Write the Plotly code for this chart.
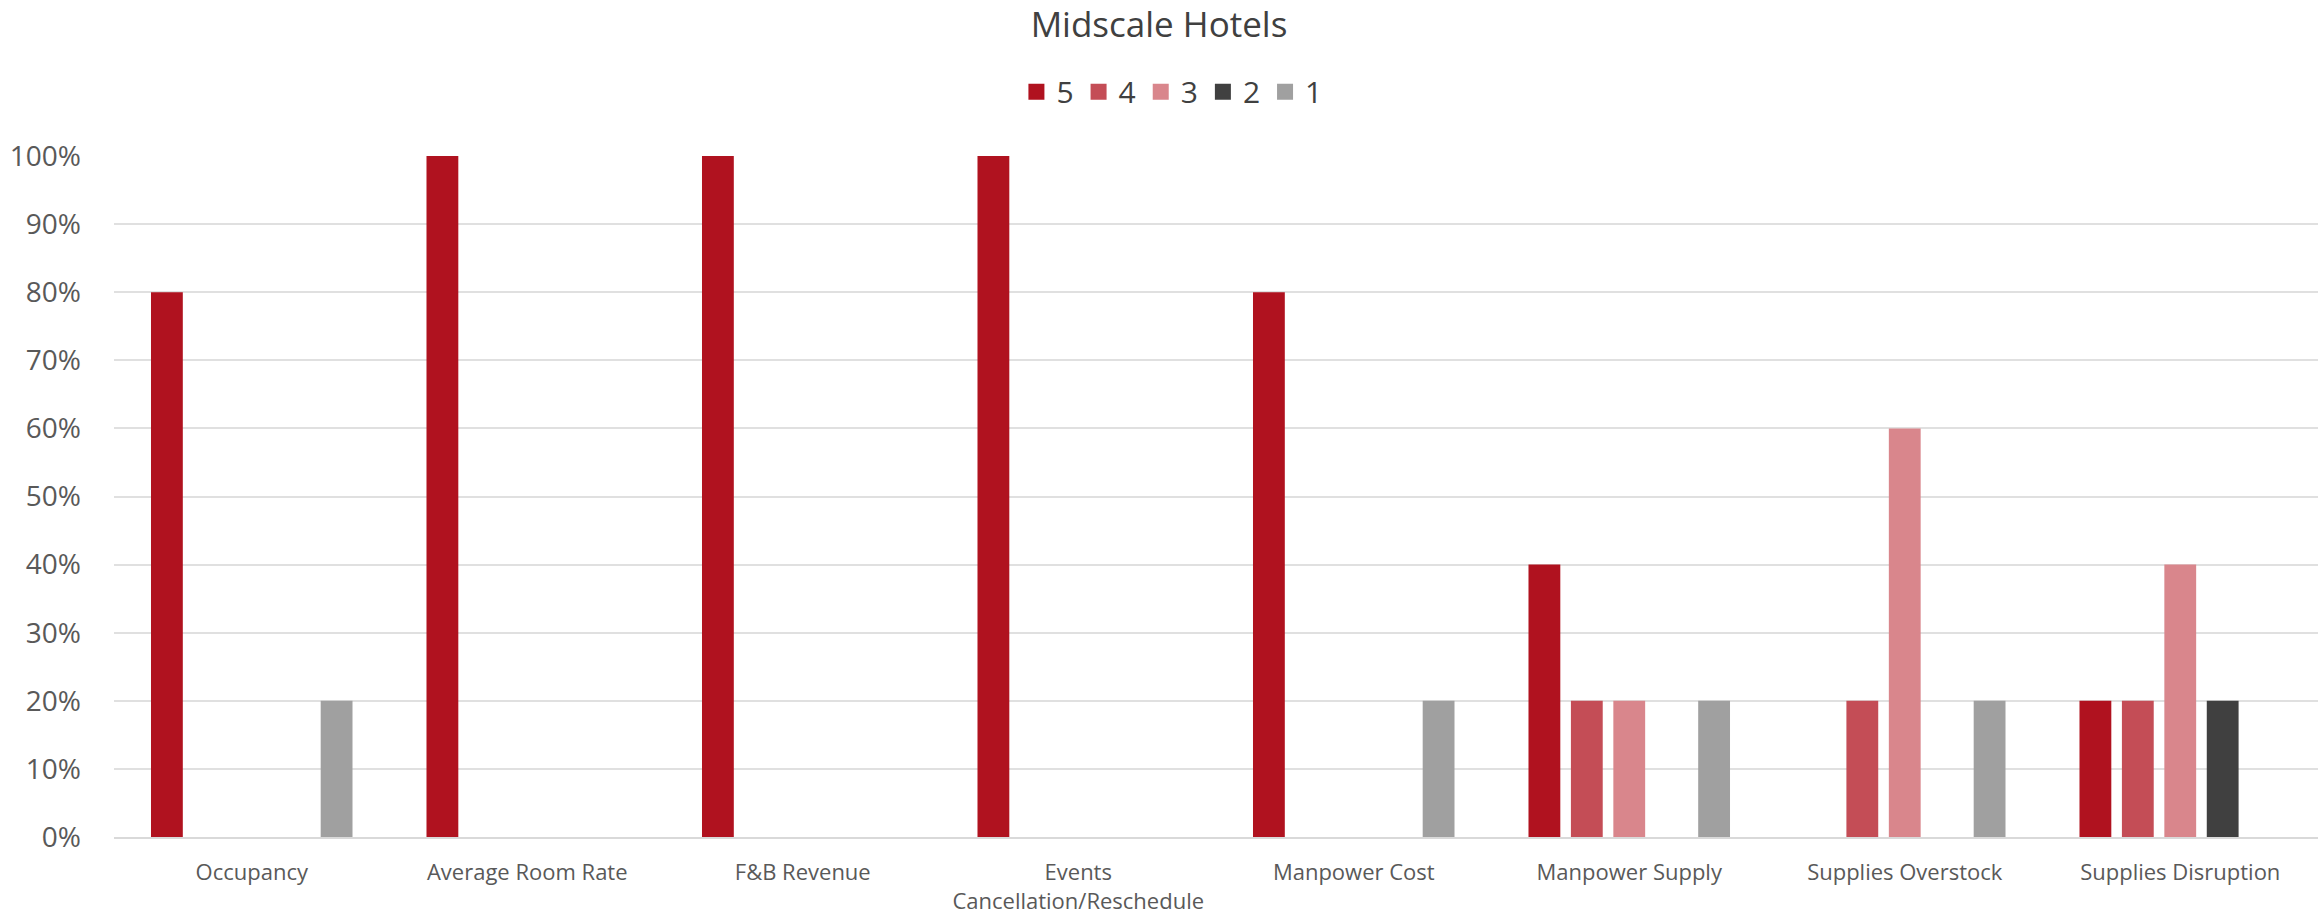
import plotly.graph_objects as go

categories = [
    "Occupancy",
    "Average Room Rate",
    "F&B Revenue",
    "Events<br>Cancellation/Reschedule",
    "Manpower Cost",
    "Manpower Supply",
    "Supplies Overstock",
    "Supplies Disruption",
]

series_names = ["5", "4", "3", "2", "1"]
score_5 = [0.8, 1.0, 1.0, 1.0, 0.8, 0.4, 0.0, 0.2]
score_4 = [0.0, 0.0, 0.0, 0.0, 0.0, 0.2, 0.2, 0.2]
score_3 = [0.0, 0.0, 0.0, 0.0, 0.0, 0.2, 0.6, 0.4]
score_2 = [0.0, 0.0, 0.0, 0.0, 0.0, 0.0, 0.0, 0.2]
score_1 = [0.2, 0.0, 0.0, 0.0, 0.2, 0.2, 0.2, 0.0]

series_values = [score_5, score_4, score_3, score_2, score_1]
colors = ["#B0121F", "#C44D56", "#D9868C", "#404040", "#A0A0A0"]

y_ticks = [i / 10 for i in range(11)]

fig = go.Figure()
for name, vals, col in zip(series_names, series_values, colors):
    fig.add_trace(go.Bar(
        name=name,
        x=categories,
        y=vals,
        marker=dict(color=col, line=dict(width=0)),
        showlegend=False,
        legendgroup=name,
    ))

# square legend swatches, one per score
for name, col in zip(series_names, colors):
    fig.add_trace(go.Scatter(
        name=name,
        x=[None],
        y=[None],
        mode="markers",
        marker=dict(symbol="square", size=19, color=col),
        legendgroup=name,
        showlegend=True,
    ))

font_family = "Open Sans, Noto Sans, sans-serif"

fig.update_layout(
    width=2318,
    height=917,
    barmode="group",
    bargap=0.23,
    bargroupgap=0.25,
    plot_bgcolor="white",
    paper_bgcolor="white",
    margin=dict(l=114, r=0, t=156, b=80),
    title=dict(
        text="Midscale Hotels",
        x=0.5,
        xanchor="center",
        y=0.973,
        yanchor="middle",
        font=dict(family=font_family, size=35, color="#404040"),
    ),
    legend=dict(
        orientation="h",
        x=0.48,
        xanchor="center",
        y=0.9,
        yref="container",
        yanchor="middle",
        font=dict(family=font_family, size=30, color="#404040"),
        traceorder="normal",
        itemwidth=30,
    ),
    font=dict(family=font_family, color="#595959"),
    showlegend=True,
)

fig.update_yaxes(
    range=[0, 1.0],
    tickvals=y_ticks,
    tickformat=".0%",
    showgrid=True,
    gridcolor="#E0E0E0",
    gridwidth=2,
    zeroline=False,
    showline=False,
    ticks="",
    ticklabelstandoff=32,
    tickfont=dict(family=font_family, size=28, color="#595959"),
)

fig.update_xaxes(
    showline=True,
    linecolor="#D9D9D9",
    linewidth=2,
    ticks="",
    ticklabelstandoff=15,
    tickfont=dict(family=font_family, size=22, color="#595959"),
)

fig.write_html("out.html")
